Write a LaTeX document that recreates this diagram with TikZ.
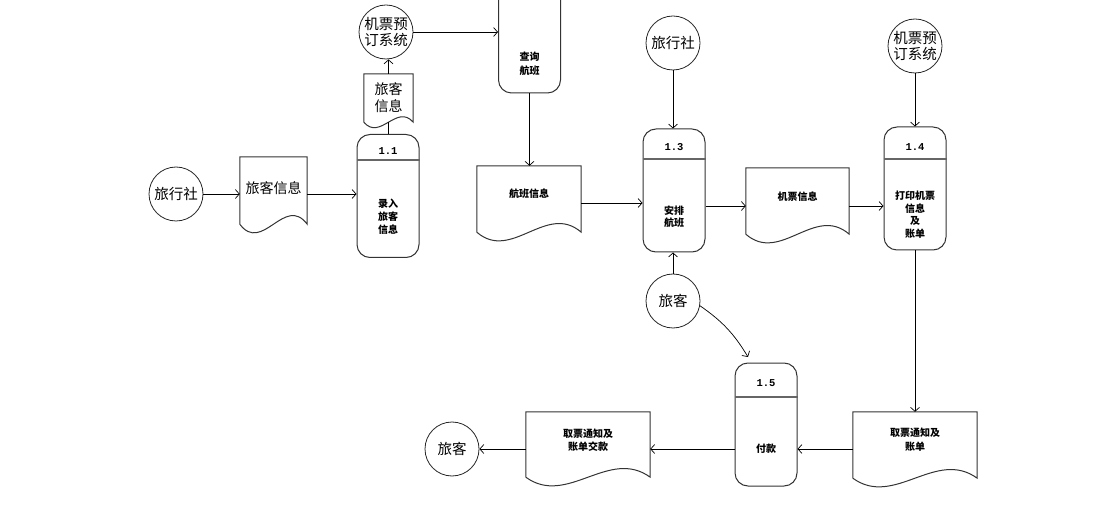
\documentclass[tikz,border=0pt]{standalone}
\usepackage{fontspec}
\newfontfamily\cjk{Noto Sans CJK SC}
\newfontfamily\numf{Liberation Mono}
\usetikzlibrary{arrows.meta,calc}
\tikzset{
 ext/.style={circle,draw=black!85,line width=0.8pt,minimum size=54pt,inner sep=0pt,align=center,font=\cjk\fontsize{14.5}{16}\selectfont},
 procbox/.style={draw=black!80,line width=1pt,rounded corners=13pt,minimum width=62pt,minimum height=123pt,inner sep=0pt},
 docbox/.style={inner sep=0pt},
 docline/.style={draw=black!80,line width=1pt},
 hdrline/.style={draw=black!60,line width=1.3pt},
 btxt/.style={font=\cjk\bfseries\fontsize{10}{12.5}\selectfont,align=center,inner sep=0pt},
 ntxt/.style={font=\numf\bfseries\fontsize{10.5}{11}\selectfont,inner sep=0pt},
 ltxt/.style={font=\cjk\fontsize{14}{17}\selectfont,align=center,inner sep=0pt},
 flow/.style={draw=black,line width=0.7pt,-{Straight Barb[length=4pt,width=9pt]}},
 plainline/.style={draw=black,line width=0.7pt},
}
\newcommand{\docwave}[2]{\draw[docline] (#1.south west) -- (#1.north west) -- (#1.north east) -- (#1.south east) .. controls ($(#1.south east)!0.333!(#1.south west)+(0,-#2)$) and ($(#1.south east)!0.667!(#1.south west)+(0,#2)$) .. (#1.south west);}
\begin{document}
\begin{tikzpicture}[x=1pt,y=-1pt]
\useasboundingbox (0,0) rectangle (1095,521);
\begin{scope}
\clip (0,0) rectangle (1095,521);
% external entities
\node[ext] (cA) at (176,194) {旅行社};
\node[ext] (cB) at (386,32) {机票预\\订系统};
\node[ext] (cC) at (673,43) {旅行社};
\node[ext] (cD) at (915,46) {机票预\\订系统};
\node[ext] (cE) at (673,301) {旅客};
\node[ext] (cF) at (452,449) {旅客};
% processes
\node[procbox] (p11) at (388,196) {};
\node[procbox] (pQ) at (529.5,31.5) {};
\node[procbox] (p13) at (674,190.5) {};
\node[procbox] (p14) at (915,188.5) {};
\node[procbox] (p15) at (766,424.5) {};
\draw[hdrline] (p11.west |- 0,160) -- (p11.east |- 0,160);
\draw[hdrline] (p13.west |- 0,159) -- (p13.east |- 0,159);
\draw[hdrline] (p14.west |- 0,159) -- (p14.east |- 0,159);
\draw[hdrline] (p15.west |- 0,397) -- (p15.east |- 0,397);
\node[ntxt] (n11) at (388,151) {1.1};
\node[ntxt] (n13) at (674,147) {1.3};
\node[ntxt] (n14) at (915,147) {1.4};
\node[ntxt] (n15) at (766,383) {1.5};
\node[btxt,font=\cjk\bfseries\fontsize{10}{13}\selectfont] (t11) at (388,217) {录入\\旅客\\信息};
\node[btxt,font=\cjk\bfseries\fontsize{10}{13.5}\selectfont] (tQ) at (529.5,64) {查询\\航班};
\node[btxt,font=\cjk\bfseries\fontsize{10}{12}\selectfont] (t13) at (674,216.5) {安排\\航班};
\node[btxt] (t14) at (915,214.5) {打印机票\\信息\\及\\账单};
\node[btxt] (t15) at (766,449) {付款};
% documents
\node[docbox,minimum width=67pt,minimum height=67pt] (dA) at (273.5,190.5) {};
\node[docbox,minimum width=49pt,minimum height=48pt] (dB) at (388.5,98) {};
\node[docbox,minimum width=104pt,minimum height=66pt] (dC) at (529,199) {};
\node[docbox,minimum width=103pt,minimum height=66pt] (dD) at (797.5,201) {};
\node[docbox,minimum width=124pt,minimum height=66pt] (dE) at (915,445) {};
\node[docbox,minimum width=124pt,minimum height=65pt] (dF) at (588,444.5) {};
\docwave{dA}{30}
\docwave{dB}{19}
\docwave{dC}{30}
\docwave{dD}{30}
\docwave{dE}{30}
\docwave{dF}{30}
\node[ltxt] (tA) at (273.5,188) {旅客信息};
\node[ltxt] (tB) at (388.5,97.5) {旅客\\信息};
\node[btxt] (tC) at (529,194) {航班信息};
\node[btxt] (tD) at (797.5,197) {机票信息};
\node[btxt,font=\cjk\bfseries\fontsize{10}{14}\selectfont] (tE) at (915,440) {取票通知及\\账单};
\node[btxt,font=\cjk\bfseries\fontsize{10}{13}\selectfont] (tF) at (588,440) {取票通知及\\账单交款};
% connectors
\draw[flow] (cA.east) -- (cA.east -| dA.west);
\draw[flow] (dA.east |- cA.east) -- (p11.west |- cA.east);
\draw[plainline] (p11.north) -- (p11.north |- dB.south);
\draw[flow] (dB.north) -- (dB.north |- cB.south);
\draw[flow] (cB.east) -- (cB.east -| pQ.west);
\draw[flow] (pQ.south) -- (pQ.south |- dC.north);
\draw[flow] ([yshift=-4pt]dC.east) -- ([yshift=-4pt]dC.east -| p13.west);
\draw[flow] (cC.south) -- (cC.south |- p13.north);
\draw[flow] (cE.north) -- (cE.north |- p13.south);
\draw[flow] ([yshift=-5pt]dD.west -| p13.east) -- ([yshift=-5pt]dD.west);
\draw[flow] ([yshift=-5pt]dD.east) -- ([yshift=-5pt]dD.east -| p14.west);
\draw[flow] (cD.south) -- (cD.south |- p14.north);
\draw[flow] (p14.south) -- (p14.south |- dE.north);
\draw[flow] ([yshift=-4pt]dE.west) -- ([yshift=-4pt]dE.west -| p15.east);
\draw[flow] ([yshift=-4pt]dE.west -| p15.west) -- ([yshift=-4pt]dE.west -| dF.east);
\draw[flow] (cF.east -| dF.west) -- (cF.east);
\coordinate (e15) at (748,357);
\draw[flow] (cE.-10) to[bend left=12] (e15);
\end{scope}
\end{tikzpicture}
\end{document}
